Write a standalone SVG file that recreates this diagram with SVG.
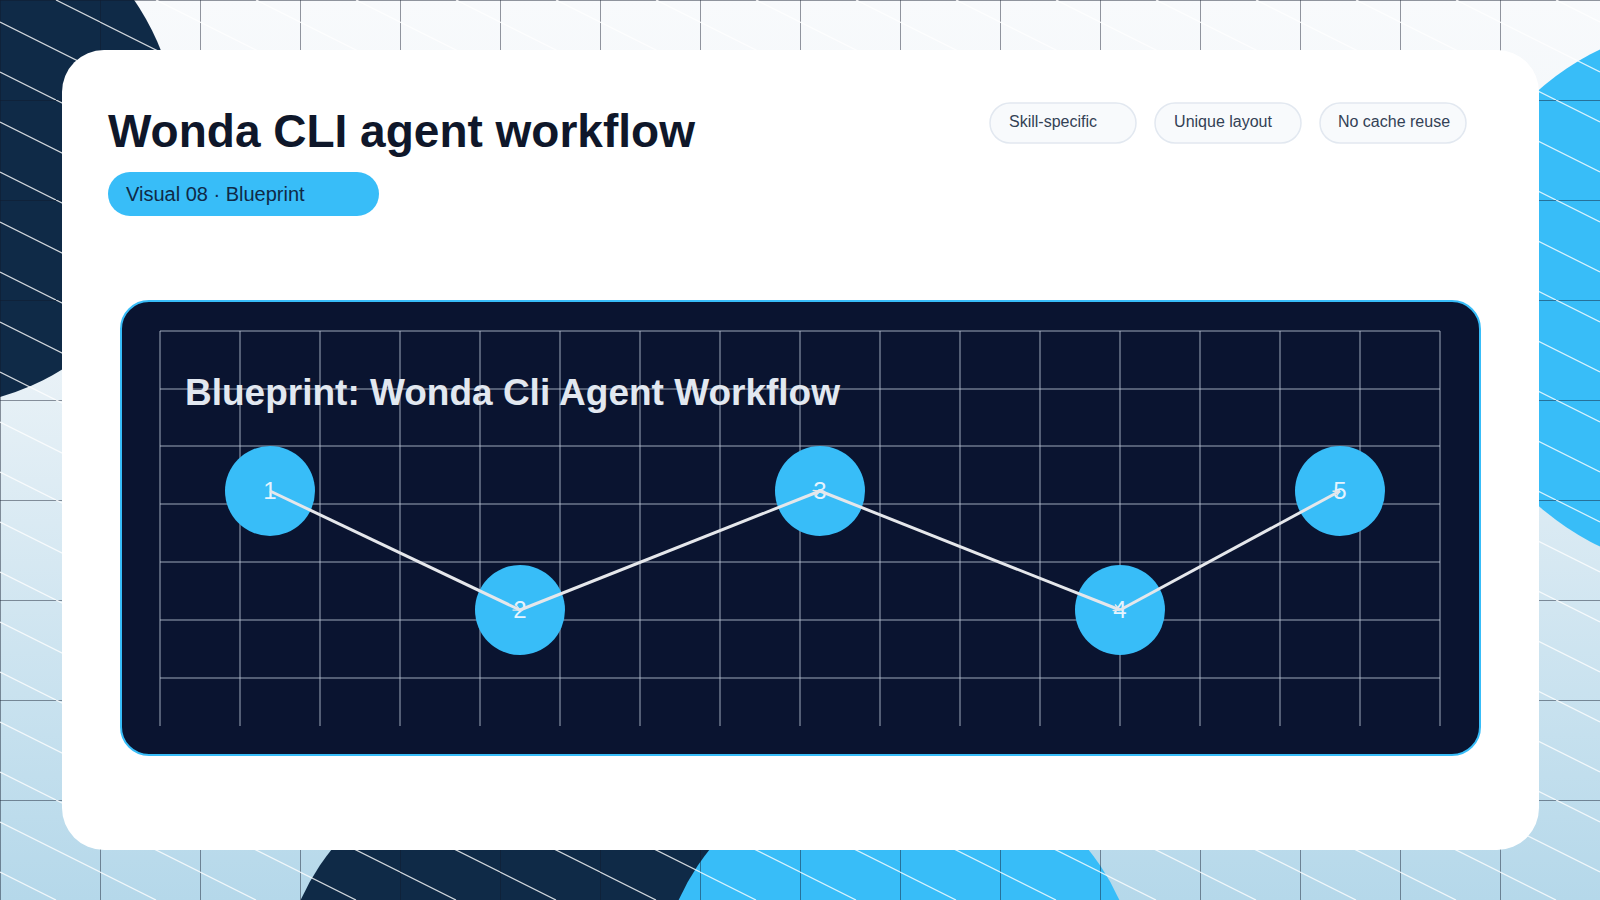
<svg xmlns="http://www.w3.org/2000/svg" width="1600" height="900" viewBox="0 0 1600 900">
<defs>
<linearGradient id="bg" x1="0" y1="0" x2="0" y2="1">
<stop offset="0" stop-color="#f8fafc"/><stop offset="0.35" stop-color="#eef4f8"/><stop offset="1" stop-color="#b5d8ea"/>
</linearGradient>
<pattern id="grid" width="100" height="100" patternUnits="userSpaceOnUse">
<path d="M0 0H100M0 0V100" stroke="#0f172a" stroke-width="1" fill="none"/>
<path d="M0 22L100 72M0 72L56 100M56 0L100 22" stroke="#ffffff" stroke-width="1.3" fill="none" opacity="0.9"/>
</pattern>
<marker id="arr" viewBox="0 0 12 12" refX="11" refY="6" markerWidth="8" markerHeight="8" markerUnits="userSpaceOnUse" orient="auto">
<path d="M1 1L11 6L1 11" fill="none" stroke="#e5e7eb" stroke-width="2"/>
</marker>
<style>
.tag{fill:#f8fafc;stroke:#e2e8f0;stroke-width:1.5}
.tagt{font-family:"Liberation Sans",Arial,sans-serif;font-size:16px;fill:#334155;text-anchor:middle}
.node{fill:#38bdf8}
.nl{font-family:"Liberation Sans",Arial,sans-serif;font-size:24px;fill:#e5f4ff;text-anchor:middle}
.gl{stroke:#c3cedd;stroke-width:1;opacity:0.8}
.con{stroke:#e5e7eb;stroke-width:3;fill:none;marker-end:url(#arr)}
</style>
</defs>
<rect width="1600" height="900" fill="url(#bg)"/>
<ellipse cx="-60" cy="150" rx="240" ry="255" fill="#0f2a47"/>
<circle cx="1720" cy="298" r="276" fill="#38bdf8"/>
<circle cx="521" cy="1000" r="242" fill="#0f2a47"/>
<circle cx="899" cy="1000" r="242" fill="#38bdf8"/>
<rect width="1600" height="900" fill="url(#grid)" opacity="0.9"/>
<rect x="62" y="50" width="1477" height="800" rx="42" fill="#ffffff"/>
<g id="header">
<text x="108" y="147" font-family="Liberation Sans,Arial,sans-serif" font-size="46" font-weight="bold" fill="#0f172a">Wonda CLI agent workflow</text>
<rect x="108" y="172" width="271" height="44" rx="22" fill="#38bdf8"/>
<text x="126" y="201" font-family="Liberation Sans,Arial,sans-serif" font-size="20" fill="#0f2a47">Visual 08 · Blueprint</text>
</g>
<g id="tags">
<rect class="tag" x="990" y="103" width="146" height="40" rx="20"/><text class="tagt" x="1053" y="127">Skill-specific</text>
<rect class="tag" x="1155" y="103" width="146" height="40" rx="20"/><text class="tagt" x="1223" y="127">Unique layout</text>
<rect class="tag" x="1320" y="103" width="146" height="40" rx="20"/><text class="tagt" x="1394" y="127">No cache reuse</text>
</g>
<g id="panel">
<rect x="121" y="301" width="1359" height="454" rx="28" fill="#0a1430" stroke="#38bdf8" stroke-width="2"/>
<g>
<path class="gl" d="M160 331V726M240 331V726M320 331V726M400 331V726M480 331V726M560 331V726M640 331V726M720 331V726M800 331V726M880 331V726M960 331V726M1040 331V726M1120 331V726M1200 331V726M1280 331V726M1360 331V726M1440 331V726"/>
<path class="gl" d="M160 331H1440M160 389H1440M160 446H1440M160 504H1440M160 562H1440M160 620H1440M160 678H1440"/>
</g>
<text x="185" y="405" font-family="Liberation Sans,Arial,sans-serif" font-size="37" font-weight="bold" fill="#e2e8f0">Blueprint: Wonda Cli Agent Workflow</text>
</g>
<g id="n1"><circle class="node" cx="270" cy="491" r="45"/><text class="nl" x="270" y="499">1</text></g>
<g id="n2"><circle class="node" cx="520" cy="610" r="45"/><text class="nl" x="520" y="618">2</text></g>
<g id="n3"><circle class="node" cx="820" cy="491" r="45"/><text class="nl" x="820" y="499">3</text></g>
<g id="n4"><circle class="node" cx="1120" cy="610" r="45"/><text class="nl" x="1120" y="618">4</text></g>
<g id="n5"><circle class="node" cx="1340" cy="491" r="45"/><text class="nl" x="1340" y="499">5</text></g>
<g id="connectors">
<line class="con" x1="270" y1="491" x2="520" y2="610"/>
<line class="con" x1="520" y1="610" x2="820" y2="491"/>
<line class="con" x1="820" y1="491" x2="1120" y2="610"/>
<line class="con" x1="1120" y1="610" x2="1340" y2="491"/>
</g>
</svg>
